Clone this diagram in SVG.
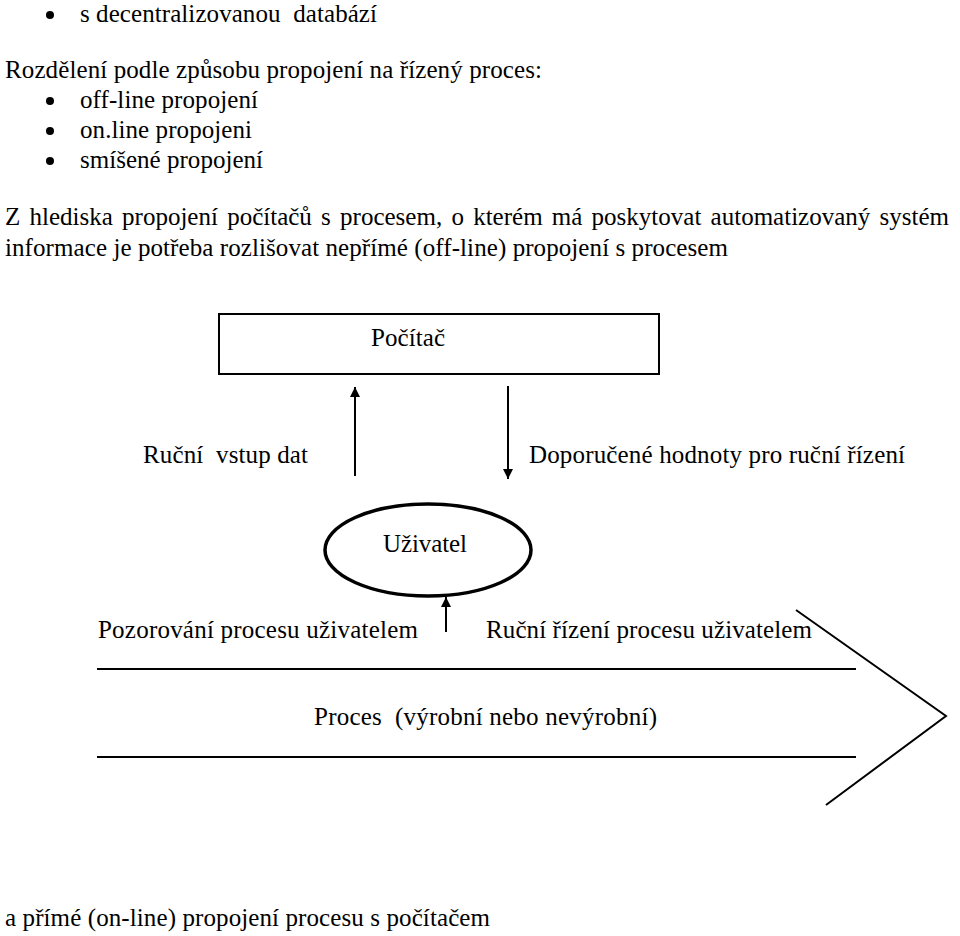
<svg xmlns="http://www.w3.org/2000/svg" width="960" height="936" viewBox="0 0 960 936">
<style>
.ln{stroke:#000;stroke-width:2;fill:none}
</style>
<defs>
<marker id="ah" viewBox="0 0 10 12" refX="10" refY="6" markerWidth="10" markerHeight="12" markerUnits="userSpaceOnUse" orient="auto">
<path d="M0,1 L10,6 L0,11 z" fill="#000"/>
</marker>
</defs>
<rect width="960" height="936" fill="#fff"/>
<g id="intro">
<circle cx="50" cy="15" r="4"/>
<text font-family="Liberation Serif" font-size="25" x="80" y="22" textLength="297" xml:space="preserve">s decentralizovanou  databází</text>
<text font-family="Liberation Serif" font-size="25" x="5" y="78" textLength="537">Rozdělení podle způsobu propojení na řízený proces:</text>
<circle cx="50" cy="101" r="4"/>
<text font-family="Liberation Serif" font-size="25" x="80" y="108" textLength="178">off-line propojení</text>
<circle cx="50" cy="131" r="4"/>
<text font-family="Liberation Serif" font-size="25" x="80" y="138" textLength="172">on.line propojeni</text>
<circle cx="50" cy="161" r="4"/>
<text font-family="Liberation Serif" font-size="25" x="80" y="168" textLength="183">smíšené propojení</text>
<text font-family="Liberation Serif" font-size="25" x="5" y="225" textLength="944" lengthAdjust="spacing" word-spacing="3">Z hlediska propojení počítačů s procesem, o kterém má poskytovat automatizovaný systém</text>
<text font-family="Liberation Serif" font-size="25" x="5" y="256" textLength="723">informace je potřeba rozlišovat nepřímé (off-line) propojení s procesem</text>
</g>
<g id="pocitac">
<rect x="219" y="314" width="440" height="60" class="ln"/>
<text font-family="Liberation Serif" font-size="25" x="371" y="346" textLength="74">Počítač</text>
</g>
<g id="labels">
<text font-family="Liberation Serif" font-size="25" x="143" y="463" textLength="165" xml:space="preserve">Ruční  vstup dat</text>
<text font-family="Liberation Serif" font-size="25" x="529" y="463" textLength="376">Doporučené hodnoty pro ruční řízení</text>
<text font-family="Liberation Serif" font-size="25" x="98" y="638" textLength="320">Pozorování procesu uživatelem</text>
<text font-family="Liberation Serif" font-size="25" x="486" y="638" textLength="326">Ruční řízení procesu uživatelem</text>
</g>
<g id="uzivatel">
<ellipse cx="428" cy="550" rx="103" ry="46" fill="none" stroke="#000" stroke-width="3.5"/>
<text font-family="Liberation Serif" font-size="25" x="383" y="552" textLength="84">Uživatel</text>
</g>
<g id="proces">
<line x1="97" y1="669" x2="856" y2="669" class="ln"/>
<line x1="97" y1="757" x2="856" y2="757" class="ln"/>
<polyline points="796,610 946,716 826,805" class="ln"/>
<text font-family="Liberation Serif" font-size="25" x="314" y="725" textLength="343" xml:space="preserve">Proces  (výrobní nebo nevýrobní)</text>
</g>
<g id="connectors">
<line x1="355" y1="476" x2="355" y2="387" class="ln" marker-end="url(#ah)"/>
<line x1="508" y1="386" x2="508" y2="479" class="ln" marker-end="url(#ah)"/>
<line x1="446" y1="632" x2="446" y2="597" class="ln" marker-end="url(#ah)"/>
</g>
<text font-family="Liberation Serif" font-size="25" x="5" y="926" textLength="485">a přímé (on-line) propojení procesu s počítačem</text>
</svg>
